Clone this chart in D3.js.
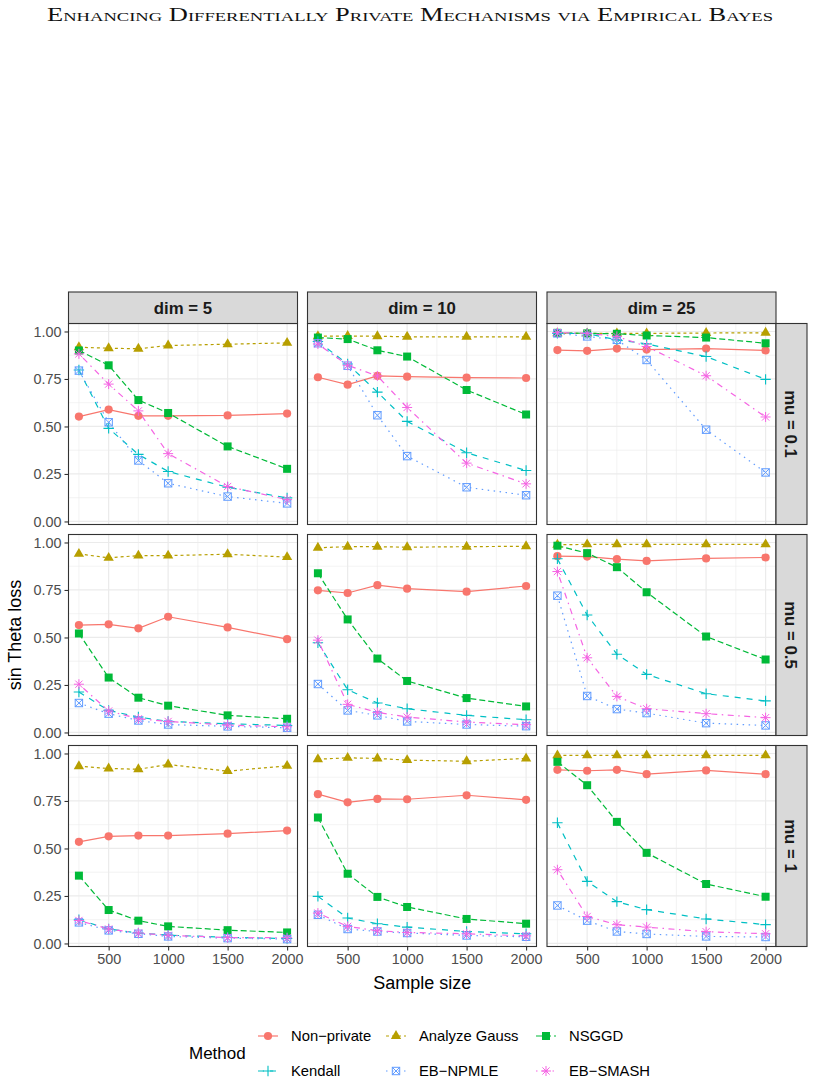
<!DOCTYPE html>
<html><head><meta charset="utf-8">
<script src="https://cdn.jsdelivr.net/npm/d3@7"></script>
<style>body{margin:0;background:#fff} svg{display:block}</style>
</head><body>
<svg id="c" width="814" height="1085"></svg>
<script>
// ---------------- data ----------------
const sampleSizes = [250, 500, 750, 1000, 1500, 2000];
const methodLabels = ["Non−private", "Analyze Gauss", "NSGGD", "Kendall", "EB−NPMLE", "EB−SMASH"];
const dimLabels = ["dim = 5", "dim = 10", "dim = 25"];
const muLabels = ["mu = 0.1", "mu = 0.5", "mu = 1"];
const yTickValues = [0, 0.25, 0.5, 0.75, 1];
const yMinorValues = [0.125, 0.375, 0.625, 0.875];
const xTickValues = [500, 1000, 1500, 2000];
const xMinorValues = [250, 750, 1250, 1750];
const methodColors = ["#F8766D", "#B79F00", "#00BA38", "#00BFC4", "#619CFF", "#F564E3"];

// each array: panels in row order (mu=0.1: dim 5,10,25; mu=0.5: ...; mu=1: ...)
const nonPrivate = [
  [0.552, 0.589, 0.556, 0.556, 0.558, 0.568],
  [0.759, 0.720, 0.766, 0.762, 0.757, 0.755],
  [0.902, 0.898, 0.910, 0.905, 0.910, 0.900],
  [0.565, 0.569, 0.548, 0.609, 0.553, 0.491],
  [0.748, 0.734, 0.775, 0.757, 0.741, 0.771],
  [0.928, 0.926, 0.912, 0.903, 0.916, 0.921],
  [0.535, 0.564, 0.568, 0.568, 0.578, 0.594],
  [0.786, 0.743, 0.761, 0.759, 0.780, 0.756],
  [0.914, 0.909, 0.914, 0.891, 0.911, 0.891]
];
const analyzeGauss = [
  [0.917, 0.912, 0.909, 0.926, 0.933, 0.940],
  [0.975, 0.976, 0.975, 0.972, 0.972, 0.972],
  [0.990, 0.990, 0.990, 0.990, 0.992, 0.993],
  [0.940, 0.919, 0.931, 0.931, 0.938, 0.923],
  [0.972, 0.978, 0.978, 0.975, 0.978, 0.980],
  [0.988, 0.990, 0.990, 0.990, 0.990, 0.990],
  [0.933, 0.921, 0.917, 0.942, 0.907, 0.935],
  [0.970, 0.977, 0.974, 0.965, 0.959, 0.974],
  [0.990, 0.990, 0.990, 0.990, 0.990, 0.990]
];
const nsggd = [
  [0.900, 0.822, 0.639, 0.571, 0.395, 0.277],
  [0.968, 0.960, 0.901, 0.868, 0.692, 0.563],
  [0.993, 0.990, 0.988, 0.979, 0.968, 0.938],
  [0.521, 0.289, 0.183, 0.141, 0.090, 0.072],
  [0.838, 0.595, 0.389, 0.271, 0.181, 0.137],
  [0.983, 0.944, 0.870, 0.738, 0.505, 0.384],
  [0.357, 0.176, 0.120, 0.090, 0.070, 0.058],
  [0.663, 0.367, 0.245, 0.192, 0.129, 0.104],
  [0.956, 0.833, 0.640, 0.477, 0.313, 0.246]
];
const kendall = [
  [0.797, 0.490, 0.353, 0.263, 0.180, 0.124],
  [0.947, 0.829, 0.681, 0.527, 0.362, 0.268],
  [0.990, 0.989, 0.956, 0.935, 0.868, 0.748],
  [0.213, 0.116, 0.081, 0.058, 0.046, 0.037],
  [0.472, 0.225, 0.155, 0.125, 0.090, 0.067],
  [0.914, 0.618, 0.412, 0.306, 0.204, 0.166],
  [0.125, 0.076, 0.055, 0.044, 0.032, 0.026],
  [0.248, 0.134, 0.104, 0.086, 0.063, 0.051],
  [0.635, 0.327, 0.220, 0.178, 0.129, 0.099]
];
const ebNpmle = [
  [0.794, 0.522, 0.321, 0.201, 0.131, 0.095],
  [0.938, 0.820, 0.559, 0.344, 0.180, 0.138],
  [0.990, 0.974, 0.956, 0.850, 0.483, 0.258],
  [0.155, 0.099, 0.063, 0.042, 0.032, 0.025],
  [0.255, 0.116, 0.090, 0.058, 0.042, 0.033],
  [0.720, 0.192, 0.123, 0.102, 0.049, 0.037],
  [0.111, 0.069, 0.051, 0.037, 0.028, 0.023],
  [0.151, 0.076, 0.063, 0.055, 0.042, 0.035],
  [0.200, 0.120, 0.063, 0.050, 0.037, 0.034]
];
const ebSmash = [
  [0.882, 0.723, 0.582, 0.357, 0.184, 0.115],
  [0.934, 0.822, 0.766, 0.600, 0.307, 0.198],
  [0.994, 0.990, 0.974, 0.921, 0.767, 0.550],
  [0.254, 0.113, 0.072, 0.058, 0.039, 0.030],
  [0.486, 0.148, 0.106, 0.081, 0.055, 0.041],
  [0.847, 0.393, 0.190, 0.125, 0.099, 0.078],
  [0.121, 0.076, 0.055, 0.043, 0.031, 0.030],
  [0.160, 0.090, 0.067, 0.058, 0.051, 0.040],
  [0.388, 0.142, 0.099, 0.086, 0.062, 0.051]
];
const seriesData = [nonPrivate, analyzeGauss, nsggd, kendall, ebNpmle, ebSmash];

// ---------------- styling / layout ----------------
const FONT = "'Liberation Sans', Arial, Helvetica, sans-serif";
const dashes = [null, "3,3", "6,3", "6,6", "1.5,4.5", "1.5,4.5,6,4.5"];
const LW = 1.2;
const panelW = 229, panelH = 201;
const colX = [68.5, 307.5, 547];
const rowY = [323.5, 534.5, 745.5];
const stripTop = 292;
const svg = d3.select("#c");

const x = d3.scaleLinear().domain([162.5, 2087.5]).range([0, panelW]);
const y = d3.scaleLinear().domain([-0.016, 1.042]).range([panelH, 0]);

// title
svg.append("text")
  .attr("x", 410).attr("y", 21)
  .attr("text-anchor", "middle")
  .attr("font-family", "'Liberation Serif', 'DejaVu Serif', serif")
  .attr("font-size", 18.5)
  .style("font-variant", "small-caps")
  .attr("textLength", 726).attr("lengthAdjust", "spacingAndGlyphs")
  .attr("fill", "#111")
  .text("Enhancing Differentially Private Mechanisms via Empirical Bayes");

function drawShape(g, m, cx, cy, col) {
  const s = g.append("g").attr("transform", `translate(${cx},${cy})`);
  if (m === 0) {
    s.append("circle").attr("r", 4.1).attr("fill", col);
  } else if (m === 1) {
    s.append("path").attr("d", d3.symbol(d3.symbolTriangle, 46)()).attr("fill", col);
  } else if (m === 2) {
    s.append("rect").attr("x", -4).attr("y", -4).attr("width", 8).attr("height", 8).attr("fill", col);
  } else if (m === 3) {
    s.append("path").attr("d", "M-5.2,0H5.2M0,-5.2V5.2").attr("stroke", col).attr("stroke-width", 1.1).attr("fill", "none");
  } else if (m === 4) {
    s.append("rect").attr("x", -3.7).attr("y", -3.7).attr("width", 7.4).attr("height", 7.4)
      .attr("fill", "none").attr("stroke", col).attr("stroke-width", 1);
    s.append("path").attr("d", "M-3.7,-3.7L3.7,3.7M-3.7,3.7L3.7,-3.7").attr("stroke", col).attr("stroke-width", 1);
  } else {
    s.append("path").attr("d", "M-5,0H5M0,-5V5M-3.6,-3.6L3.6,3.6M-3.6,3.6L3.6,-3.6")
      .attr("stroke", col).attr("stroke-width", 1).attr("fill", "none");
  }
}

const line = d3.line().x((d, i) => x(sampleSizes[i])).y(d => y(d));

for (let r = 0; r < 3; r++) {
  for (let c = 0; c < 3; c++) {
    const p = r * 3 + c;
    const g = svg.append("g").attr("transform", `translate(${colX[c]},${rowY[r]})`);
    g.append("rect").attr("width", panelW).attr("height", panelH).attr("fill", "#fff");
    // minor grid
    g.selectAll(".ym").data(yMinorValues).enter().append("line")
      .attr("x1", 0).attr("x2", panelW).attr("y1", d => y(d)).attr("y2", d => y(d))
      .attr("stroke", "#EBEBEB").attr("stroke-width", 0.6);
    g.selectAll(".xm").data(xMinorValues).enter().append("line")
      .attr("y1", 0).attr("y2", panelH).attr("x1", d => x(d)).attr("x2", d => x(d))
      .attr("stroke", "#EBEBEB").attr("stroke-width", 0.6);
    // major grid
    g.selectAll(".yM").data(yTickValues).enter().append("line")
      .attr("x1", 0).attr("x2", panelW).attr("y1", d => y(d)).attr("y2", d => y(d))
      .attr("stroke", "#EBEBEB").attr("stroke-width", 1.2);
    g.selectAll(".xM").data(xTickValues).enter().append("line")
      .attr("y1", 0).attr("y2", panelH).attr("x1", d => x(d)).attr("x2", d => x(d))
      .attr("stroke", "#EBEBEB").attr("stroke-width", 1.2);
    // lines
    seriesData.forEach((arr, m) => {
      const path = g.append("path").attr("d", line(arr[p])).attr("fill", "none")
        .attr("stroke", methodColors[m]).attr("stroke-width", LW);
      if (dashes[m]) path.attr("stroke-dasharray", dashes[m]);
    });
    // points
    seriesData.forEach((arr, m) => {
      arr[p].forEach((v, i) => drawShape(g, m, x(sampleSizes[i]), y(v), methodColors[m]));
    });
    // border
    g.append("rect").attr("width", panelW).attr("height", panelH).attr("fill", "none")
      .attr("stroke", "#333333").attr("stroke-width", 1.1);

    // axes
    if (c === 0) {
      const ax = g.append("g").call(d3.axisLeft(y).tickValues(yTickValues).tickFormat(d3.format(".2f")).tickSize(4).tickPadding(3));
      ax.select(".domain").remove();
      ax.selectAll("line").attr("stroke", "#333333").attr("stroke-width", 1.1);
      ax.selectAll("text").attr("fill", "#4D4D4D").attr("font-size", 14.4).attr("font-family", FONT);
    }
    if (r === 2) {
      const ax = g.append("g").attr("transform", `translate(0,${panelH})`)
        .call(d3.axisBottom(x).tickValues(xTickValues).tickFormat(d3.format("d")).tickSize(4).tickPadding(3));
      ax.select(".domain").remove();
      ax.selectAll("line").attr("stroke", "#333333").attr("stroke-width", 1.1);
      ax.selectAll("text").attr("fill", "#4D4D4D").attr("font-size", 14.4).attr("font-family", FONT);
    }
    // top strips
    if (r === 0) {
      svg.append("rect").attr("x", colX[c]).attr("y", stripTop).attr("width", panelW).attr("height", rowY[0] - stripTop)
        .attr("fill", "#D9D9D9").attr("stroke", "#333333").attr("stroke-width", 1.1);
      svg.append("text").attr("x", colX[c] + panelW / 2).attr("y", (stripTop + rowY[0]) / 2)
        .attr("dy", "0.36em").attr("text-anchor", "middle").attr("font-family", FONT)
        .attr("font-weight", "bold").attr("font-size", 16.8).attr("fill", "#1A1A1A").text(dimLabels[c]);
    }
    if (c === 2) {
      const sx = colX[2] + panelW, sw = 31;
      svg.append("rect").attr("x", sx).attr("y", rowY[r]).attr("width", sw).attr("height", panelH)
        .attr("fill", "#D9D9D9").attr("stroke", "#333333").attr("stroke-width", 1.1);
      svg.append("text").attr("transform", `translate(${sx + sw / 2},${rowY[r] + panelH / 2}) rotate(90)`)
        .attr("dy", "0.36em").attr("text-anchor", "middle").attr("font-family", FONT)
        .attr("font-weight", "bold").attr("font-size", 16.8).attr("fill", "#1A1A1A").text(muLabels[r]);
    }
  }
}

// axis titles
svg.append("text").attr("x", (colX[0] + colX[2] + panelW) / 2).attr("y", 983).attr("dy", "0.36em")
  .attr("text-anchor", "middle").attr("font-family", FONT).attr("font-size", 18).attr("fill", "#000").text("Sample size");
svg.append("text").attr("transform", `translate(15,${rowY[0] + (rowY[2] + panelH - rowY[0]) / 2}) rotate(-90)`)
  .attr("dy", "0.36em").attr("text-anchor", "middle").attr("font-family", FONT).attr("font-size", 18).attr("fill", "#000").text("sin Theta loss");

// legend
const leg = svg.append("g");
leg.append("text").attr("x", 189).attr("y", 1053).attr("dy", "0.36em").attr("font-family", FONT)
  .attr("font-size", 17).attr("fill", "#000").text("Method");
const keyX = [268, 396, 546], rowLY = [1036, 1071];
methodLabels.forEach((lab, m) => {
  const kx = keyX[m % 3], ky = rowLY[Math.floor(m / 3)];
  const l = leg.append("line").attr("x1", kx - 10).attr("x2", kx + 10).attr("y1", ky).attr("y2", ky)
    .attr("stroke", methodColors[m]).attr("stroke-width", LW);
  if (dashes[m]) l.attr("stroke-dasharray", dashes[m]);
  drawShape(leg, m, kx, ky, methodColors[m]);
  leg.append("text").attr("x", kx + 23).attr("y", ky).attr("dy", "0.36em").attr("font-family", FONT)
    .attr("font-size", 14.8).attr("fill", "#000").text(lab);
});
</script>
</body></html>
